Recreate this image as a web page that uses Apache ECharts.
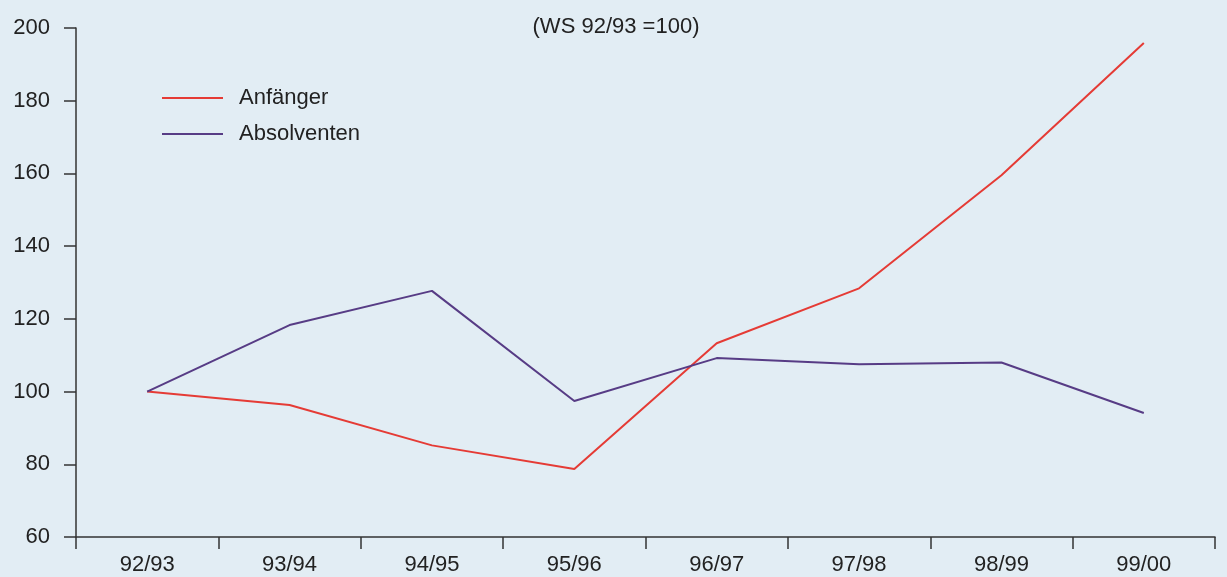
<!DOCTYPE html>
<html>
<head>
<meta charset="utf-8">
<script src="https://cdn.jsdelivr.net/npm/echarts@6/dist/echarts.min.js"></script>
<style>
  html, body { margin: 0; padding: 0; background: #e2edf4; }
  #chart { width: 1227px; height: 577px; }
</style>
</head>
<body>
<div id="chart"></div>
<script>
// Index of beginners and graduates, winter semester 92/93 = 100
const semesters = ['92/93', '93/94', '94/95', '95/96', '96/97', '97/98', '98/99', '99/00'];
const anfaenger = [100, 96.3, 85.2, 78.7, 113.3, 128.4, 159.5, 195.9];
const absolventen = [100, 118.3, 127.7, 97.4, 109.2, 107.5, 108, 94.1];
const yTicks = { min: 60, max: 200, step: 20 };
const subtitle = '(WS 92/93 =100)';

const FONT = '"Liberation Sans", Arial, sans-serif';
const TEXT = '#222222';
const AXIS = '#333333';

const chart = echarts.init(document.getElementById('chart'));

// plain horizontal stroke as legend key
const legendBase = {
  orient: 'vertical',
  left: 162,
  padding: 0,
  icon: 'path://M0,0H61V2H0Z',
  itemWidth: 61,
  itemHeight: 2,
  selectedMode: false,
  textStyle: { fontFamily: FONT, fontSize: 22, color: TEXT, padding: [2, 0, 0, 11] }
};

chart.setOption({
  backgroundColor: '#e2edf4',
  animation: false,
  grid: { left: 76, right: 12, top: 28, bottom: 40 },
  legend: [
    Object.assign({}, legendBase, { top: 87, data: ['Anfänger'] }),
    Object.assign({}, legendBase, { top: 123, data: ['Absolventen'] })
  ],
  graphic: [{
    type: 'text',
    x: 616,
    y: 27,
    style: {
      text: subtitle,
      align: 'center',
      verticalAlign: 'middle',
      fontFamily: FONT,
      fontSize: 22,
      fill: TEXT
    }
  }],
  xAxis: {
    type: 'category',
    data: semesters,
    boundaryGap: true,
    axisLine: { lineStyle: { color: AXIS, width: 1.5 } },
    axisTick: { show: true, length: 12, lineStyle: { color: AXIS, width: 1.5 } },
    axisLabel: { margin: 17, fontFamily: FONT, fontSize: 22, color: TEXT },
    splitLine: { show: false }
  },
  yAxis: {
    type: 'value',
    min: yTicks.min,
    max: yTicks.max,
    interval: yTicks.step,
    axisLine: { show: true, lineStyle: { color: AXIS, width: 1.5 } },
    axisTick: { show: true, length: 12, lineStyle: { color: AXIS, width: 1.5 } },
    axisLabel: { margin: 26, fontFamily: FONT, fontSize: 22, color: TEXT },
    splitLine: { show: false }
  },
  series: [
    {
      name: 'Anfänger',
      type: 'line',
      data: anfaenger,
      symbol: 'none',
      lineStyle: { color: '#e53b35', width: 2 },
      itemStyle: { color: '#e53b35' }
    },
    {
      name: 'Absolventen',
      type: 'line',
      data: absolventen,
      symbol: 'none',
      lineStyle: { color: '#573c85', width: 2 },
      itemStyle: { color: '#573c85' }
    }
  ]
});
</script>
</body>
</html>
